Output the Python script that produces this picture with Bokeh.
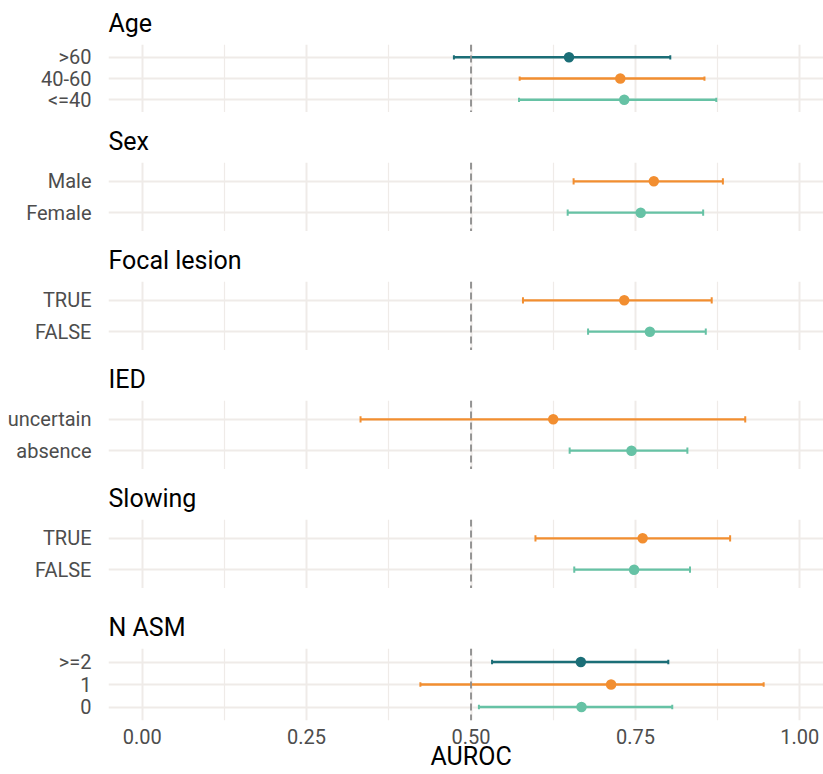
from bokeh.plotting import figure
from bokeh.layouts import column
from bokeh.models import (Range1d, FactorRange, FixedTicker, Grid, Span,
                          ColumnDataSource, Title)
from bokeh.embed import file_html
from bokeh.resources import INLINE

# ---------------- data ----------------
panel_titles = ["Age", "Sex", "Focal lesion", "IED", "Slowing", "N ASM"]

age_levels = ["<=40", "40-60", ">60"]
age_auc = [0.733, 0.727, 0.649]
age_lo = [0.573, 0.574, 0.474]
age_hi = [0.873, 0.855, 0.803]

sex_levels = ["Female", "Male"]
sex_auc = [0.758, 0.778]
sex_lo = [0.647, 0.656]
sex_hi = [0.853, 0.883]

focal_levels = ["FALSE", "TRUE"]
focal_auc = [0.772, 0.733]
focal_lo = [0.678, 0.579]
focal_hi = [0.857, 0.866]

ied_levels = ["absence", "uncertain"]
ied_auc = [0.744, 0.625]
ied_lo = [0.650, 0.332]
ied_hi = [0.829, 0.917]

slowing_levels = ["FALSE", "TRUE"]
slowing_auc = [0.748, 0.761]
slowing_lo = [0.657, 0.598]
slowing_hi = [0.833, 0.894]

nasm_levels = ["0", "1", ">=2"]
nasm_auc = [0.668, 0.713, 0.667]
nasm_lo = [0.512, 0.423, 0.532]
nasm_hi = [0.806, 0.945, 0.800]

x_ticks = [0.0, 0.25, 0.5, 0.75, 1.0]
x_tick_labels = ["0.00", "0.25", "0.50", "0.75", "1.00"]
x_minor_ticks = [0.125, 0.375, 0.625, 0.875]
reference_auc = 0.5
x_label = "AUROC"

level_colors = ["#66C2A5", "#F28E30", "#1B6E77"]

panels = [
    (age_levels, age_auc, age_lo, age_hi),
    (sex_levels, sex_auc, sex_lo, sex_hi),
    (focal_levels, focal_auc, focal_lo, focal_hi),
    (ied_levels, ied_auc, ied_lo, ied_hi),
    (slowing_levels, slowing_auc, slowing_lo, slowing_hi),
    (nasm_levels, nasm_auc, nasm_lo, nasm_hi),
]

# ---------------- layout ----------------
FONT = "Roboto"
GRID_COLOR = "#EFEBE8"
TEXT_GRAY = "#4D4D4D"
FIG_W = 823
LEFT = 108
tops = [43, 50, 50, 50, 50, 60]
frames = [69, 69, 69, 69, 69, 72]
bottoms = [0, 0, 0, 0, 0, 54]

figs = []
for i, (title, (levels, auc, lo, hi)) in enumerate(zip(panel_titles, panels)):
    last = i == len(panels) - 1
    src = ColumnDataSource(dict(lvl=levels, auc=auc, lo=lo, hi=hi,
                                color=level_colors[:len(levels)]))
    p = figure(width=FIG_W, height=tops[i] + frames[i] + bottoms[i],
               y_range=FactorRange(factors=levels, range_padding=0.1,
                                   range_padding_units="absolute"),
               x_range=Range1d(-0.05125, 1.036),
               x_axis_location="below" if last else None,
               output_backend="svg", toolbar_location=None,
               min_border_left=LEFT, min_border_right=0,
               min_border_top=tops[i], min_border_bottom=bottoms[i])
    p.outline_line_color = None
    p.background_fill_color = "white"
    p.border_fill_color = "white"

    # title
    p.title.text = title
    p.title.text_font = FONT
    p.title.text_font_size = "25px"
    p.title.text_font_style = "normal"
    p.title.text_color = "black"
    p.title.align = "left"
    p.title.standoff = 13

    # y axis
    p.yaxis.axis_line_color = None
    p.yaxis.major_tick_line_color = None
    p.yaxis.minor_tick_line_color = None
    p.yaxis.major_label_text_font = FONT
    p.yaxis.major_label_text_font_size = "20px"
    p.yaxis.major_label_text_color = TEXT_GRAY
    p.yaxis.major_label_standoff = 11
    p.ygrid.grid_line_color = GRID_COLOR
    p.ygrid.grid_line_width = 2

    # vertical grid
    p.center = [r for r in p.center if not (isinstance(r, Grid) and r.dimension == 0)]
    g = Grid(dimension=0, ticker=FixedTicker(ticks=x_ticks, minor_ticks=x_minor_ticks),
             grid_line_color=GRID_COLOR, grid_line_width=2,
             minor_grid_line_color=GRID_COLOR, minor_grid_line_width=1.2)
    p.add_layout(g, "center")

    if last:
        p.xaxis.ticker = FixedTicker(ticks=x_ticks)
        p.xaxis.major_label_overrides = dict(zip(x_ticks, x_tick_labels))
        p.xaxis.axis_line_color = None
        p.xaxis.major_tick_line_color = None
        p.xaxis.minor_tick_line_color = None
        p.xaxis.major_tick_out = 0
        p.xaxis.major_label_text_font = FONT
        p.xaxis.major_label_text_font_size = "20px"
        p.xaxis.major_label_text_color = TEXT_GRAY
        p.xaxis.major_label_standoff = 8
        p.add_layout(Title(text=x_label, align="left", offset=322,
                           vertical_align="middle", standoff=-11,
                           text_font=FONT, text_font_size="25px",
                           text_font_style="normal", text_color="black"),
                     "below")

    # error bars
    p.segment(x0="lo", y0="lvl", x1="hi", y1="lvl", source=src,
              line_color="color", line_width=2.3)
    p.rect(x="lo", y="lvl", width=2, width_units="screen", height=0.2,
           source=src, fill_color="color", line_color=None)
    p.rect(x="hi", y="lvl", width=2, width_units="screen", height=0.2,
           source=src, fill_color="color", line_color=None)
    p.scatter(x="auc", y="lvl", size=10.5, source=src,
              fill_color="color", line_color=None)

    p.add_layout(Span(location=reference_auc, dimension="height",
                      line_color="#8C8C8C", line_width=1.8, line_dash="7 4"))
    figs.append(p)

layout = column(*figs, spacing=0)
open("out.html", "w").write(file_html(layout, INLINE))
